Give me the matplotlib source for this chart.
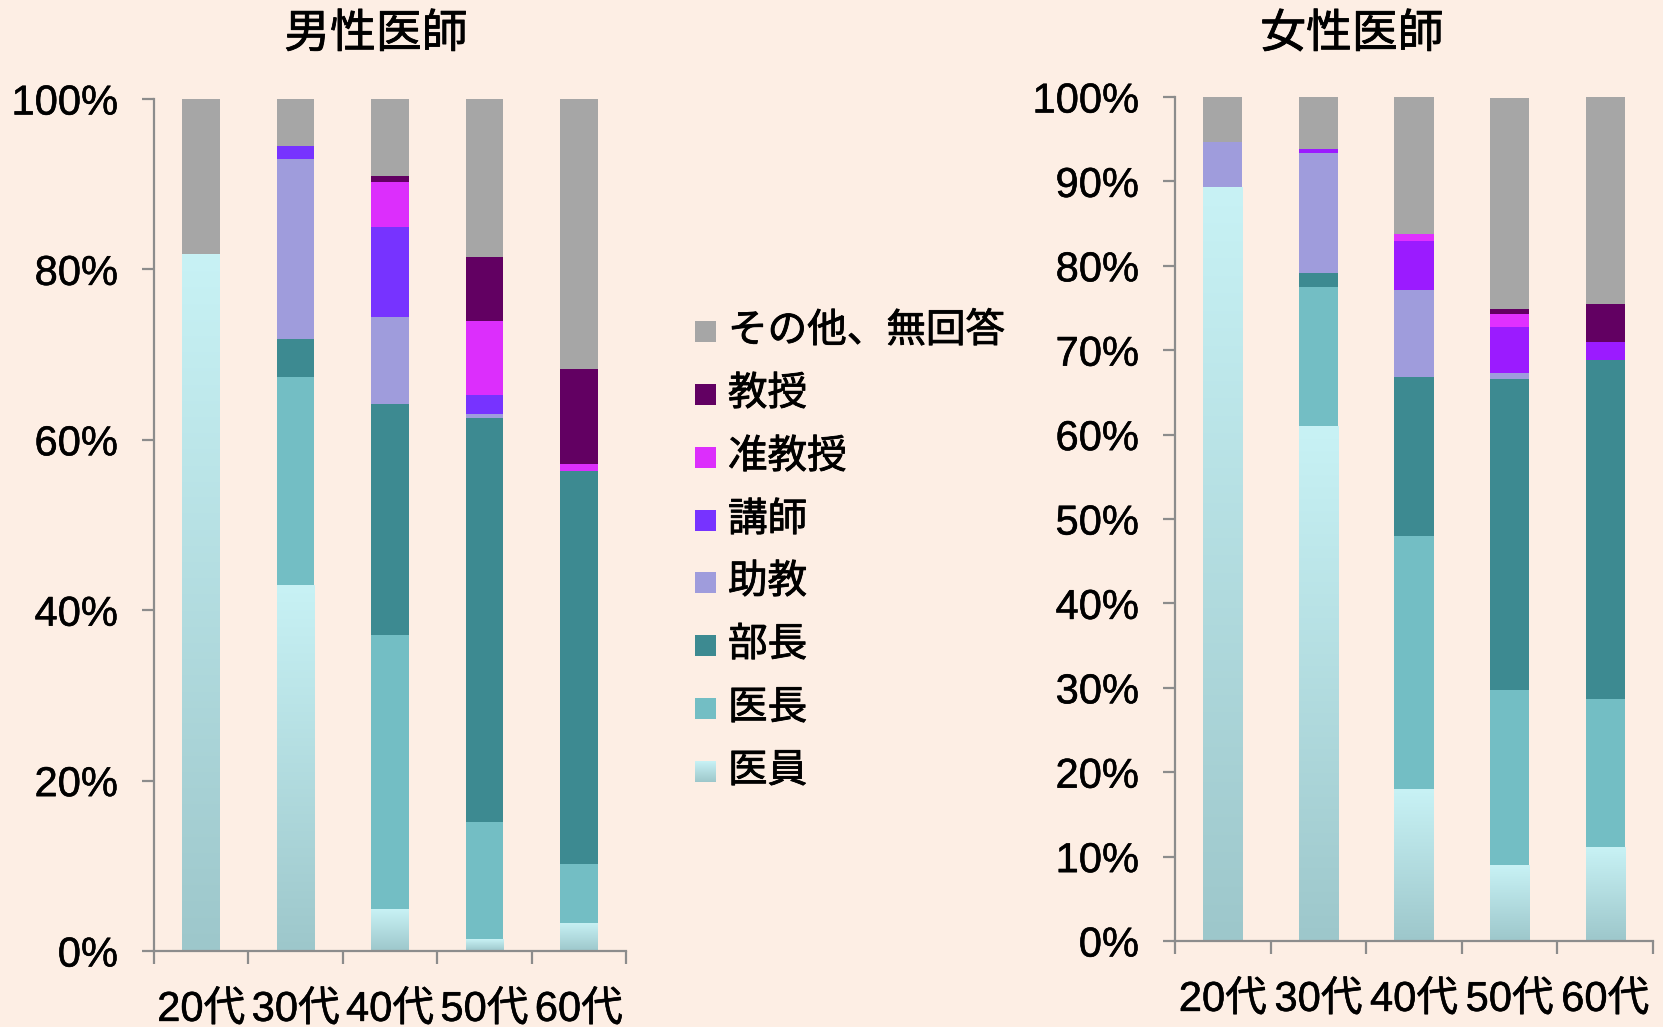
import numpy as np
import matplotlib
matplotlib.use('Agg')
import matplotlib.pyplot as plt
import matplotlib.patheffects as pe
from matplotlib.colors import LinearSegmentedColormap
from matplotlib.patches import Rectangle

plt.rcParams['font.family'] = ['Liberation Sans', 'Noto Sans CJK JP']

ages = ['20代', '30代', '40代', '50代', '60代']
roles = ['医員', '医長', '部長', '助教', '講師', '准教授', '教授', 'その他、無回答']

# 男性医師 (%)
male_iin = [81.8, 43.0, 4.9, 1.4, 3.3]
male_ichou = [0, 24.4, 32.2, 13.7, 6.9]
male_buchou = [0, 4.4, 27.1, 47.5, 46.1]
male_jokyo = [0, 21.2, 10.2, 0.4, 0]
male_koushi = [0, 1.5, 10.6, 2.3, 0]
male_junkyoju = [0, 0, 5.3, 8.7, 0.9]
male_kyoju = [0, 0, 0.7, 7.5, 11.1]
male_other = [18.2, 5.5, 9.0, 18.5, 31.7]

# 女性医師 (%)
female_iin = [89.3, 61.0, 18.0, 9.0, 11.1]
female_ichou = [0, 16.5, 30.0, 20.7, 17.6]
female_buchou = [0, 1.6, 18.8, 36.9, 40.1]
female_jokyo = [5.4, 14.3, 10.3, 0.7, 0]
female_koushi = [0, 0.4, 5.8, 5.5, 2.2]
female_junkyoju = [0, 0, 0.9, 1.5, 0]
female_kyoju = [0, 0, 0, 0.6, 4.5]
female_other = [5.3, 6.2, 16.2, 25.0, 24.5]

colors = ['#C8F2F5', '#73BEC4', '#3D8A91', '#9F9CDC', '#7733FF', '#DC2EFC', '#620062', '#A6A6A6']
iin_cmap = LinearSegmentedColormap.from_list('iin', ['#9DC7CB', '#C8F2F5'])
grad = np.linspace(0, 1, 256).reshape(-1, 1)

BG = '#FDEEE4'
AXC = '#8C8C8C'
heavy = [pe.withStroke(linewidth=0.6, foreground='black')]

fig = plt.figure(figsize=(16.63, 10.27), dpi=100, facecolor=BG)


def draw_stack(ax, series, cols, width, step, title, tx):
    x = np.arange(len(ages))
    bottom = np.zeros(len(ages))
    for i, (vals, c) in enumerate(zip(series, cols)):
        vals = np.array(vals, dtype=float)
        bars = ax.bar(x, vals, width, bottom=bottom, color=c, edgecolor='none', zorder=2)
        if i == 0:
            # 医員 has a vertical gradient
            for p in bars:
                if p.get_height() <= 0:
                    continue
                bx, by = p.get_x(), p.get_y()
                im = ax.imshow(grad, cmap=iin_cmap, origin='lower', aspect='auto',
                               extent=[bx, bx + p.get_width(), by, by + p.get_height()], zorder=2.5)
                im.set_clip_path(p)
                p.set_facecolor('none')
        bottom += vals
    ax.set_xlim(-0.5, len(ages) - 0.5)
    ax.set_ylim(0, 100)
    ax.set_facecolor('none')
    for s in ['top', 'right']:
        ax.spines[s].set_visible(False)
    for s in ['left', 'bottom']:
        ax.spines[s].set_color(AXC)
        ax.spines[s].set_linewidth(1.6)
    ax.set_yticks(np.arange(0, 101, step))
    ax.set_yticklabels([f'{v}%' for v in range(0, 101, step)])
    ax.set_xticks(x)
    ax.set_xticklabels(ages)
    ax.set_xticks(np.arange(-0.5, len(ages)), minor=True)
    ax.tick_params(axis='x', which='major', length=0, pad=28, labelsize=30)
    ax.tick_params(axis='x', which='minor', length=9, width=1.6, color=AXC, direction='out')
    ax.tick_params(axis='y', length=9, width=1.6, color=AXC, pad=17, labelsize=30)
    for t in ax.get_xticklabels() + ax.get_yticklabels():
        t.set_path_effects([pe.withStroke(linewidth=0.4, foreground='black')])
    fig.text(tx, 1 - 34 / 1027, title, ha='center', va='center', fontsize=33,
             family=['Noto Sans CJK JP'], path_effects=heavy)


ax1 = fig.add_axes([154 / 1663, 1 - 951 / 1027, (626 - 154) / 1663, (951 - 99) / 1027])
draw_stack(ax1, [male_iin, male_ichou, male_buchou, male_jokyo, male_koushi,
                 male_junkyoju, male_kyoju, male_other],
           colors, 0.40, 20, '男性医師', 376 / 1663)

fcolors = list(colors)
fcolors[4] = '#9B1BFF'
fcolors[5] = '#E030FF'
ax2 = fig.add_axes([1175 / 1663, 1 - 941 / 1027, (1653 - 1175) / 1663, (941 - 97) / 1027])
draw_stack(ax2, [female_iin, female_ichou, female_buchou, female_jokyo, female_koushi,
                 female_junkyoju, female_kyoju, female_other],
           fcolors, 0.41, 10, '女性医師', 1352 / 1663)

# legend, drawn by hand (top entry first)
row_y = [331, 394, 457, 520, 582, 645, 708, 771]
for yy, lab, c in zip(row_y, roles[::-1], colors[::-1]):
    sq = 21
    if lab == '医員':
        lax = fig.add_axes([695 / 1663, 1 - (yy + sq / 2) / 1027, sq / 1663, sq / 1027])
        lax.imshow(grad, cmap=iin_cmap, origin='lower', aspect='auto')
        lax.axis('off')
    else:
        fig.patches.append(Rectangle((695 / 1663, 1 - (yy + sq / 2) / 1027), sq / 1663, sq / 1027,
                                     transform=fig.transFigure, facecolor=c, edgecolor='none'))
    fig.text(728 / 1663, 1 - yy / 1027, lab, ha='left', va='center', fontsize=28.5,
             family=['Noto Sans CJK JP'], path_effects=heavy)

fig.savefig('out.png', dpi=100, facecolor=BG)
